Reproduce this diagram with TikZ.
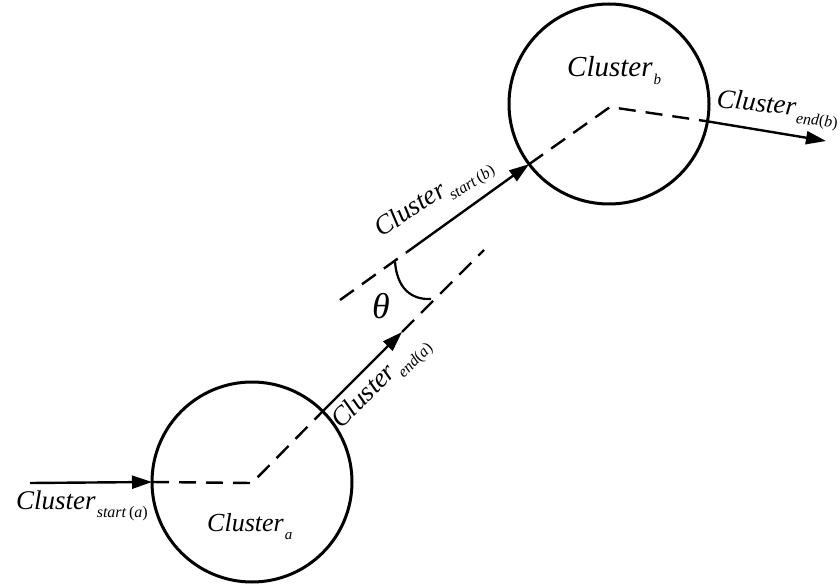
\documentclass[tikz,border=0pt]{standalone}
\usepackage{fontspec}
\setmainfont{Liberation Serif}
\usetikzlibrary{arrows.meta}
% Cluster label with a lowered, smaller subscript
\newcommand\clname[2]{\textit{Cluster}\kern1pt\raisebox{-8pt}{\fontsize{#2}{#2}\selectfont #1}}

\begin{document}
\begin{tikzpicture}[x=1pt,y=-1pt,
  cluster/.style={circle,draw,line width=3pt,minimum size=200pt,inner sep=0pt,outer sep=0pt},
  flow/.style={line width=2.4pt,-{Triangle[length=20pt,width=13pt]}},
  hidden/.style={line width=2.4pt,dash pattern=on 17pt off 10pt},
  lbl/.style={inner sep=0pt,anchor=base west,font=\fontsize{27}{30}\selectfont}]
\useasboundingbox (0,0) rectangle (840,585);

% the two clusters
\node[cluster] (A) at (252,482) {};
\node[cluster] (B) at (609,104) {};

% turning points and free ends
\coordinate (a0) at (30,483);
\coordinate (ka) at (252,483);
\coordinate (ea) at (402,332);
\coordinate (ax) at (484,250);
\coordinate (u0) at (340,300);
\coordinate (us) at (407,252);
\coordinate (kb) at (610,107);
\coordinate (eb) at (826,141);

% path through cluster a
\draw[flow] (a0) -- (A.west);
\draw[hidden] (A.west) -- (ka) -- (A.45);
\draw[flow] (A.45) -- (ea);
\draw[hidden] (ea) -- (ax);

% path through cluster b
\draw[hidden] (u0) -- (us);
\draw[flow] (us) -- (B.217);
\draw[hidden] (B.217) -- (kb) -- (B.-10);
\draw[flow] (B.-10) -- (eb);

% angle between the two directions
\coordinate (th1) at (395,262);
\coordinate (th2) at (431,299);
\draw[line width=2.2pt] (th1) .. controls (397,287) and (410,300) .. (th2);
\node[font=\fontsize{36}{38}\selectfont] (theta) at (381,306) {\textit{θ}};

% labels
\node[lbl] (lsa) at (16,509) {\clname{\textit{start}\,(\textit{a})}{16}};
\node[lbl,font=\fontsize{26}{30}\selectfont] (lA) at (207,531) {\clname{\textit{a}}{15}};
\node[lbl,font=\fontsize{29}{30}\selectfont] (lB) at (567,77) {\clname{\textit{b}}{15}};
\node[lbl,rotate=45] (lea) at (341,430) {\clname{\textit{end}(\textit{a})}{16}};
\node[lbl,rotate=33] (lsb) at (381,238) {\clname{\textit{start}\,(\textit{b})}{16}};
\node[lbl,rotate=-6] (leb) at (716,107) {\clname{\textit{end}(\textit{b})}{16}};
\end{tikzpicture}
\end{document}
